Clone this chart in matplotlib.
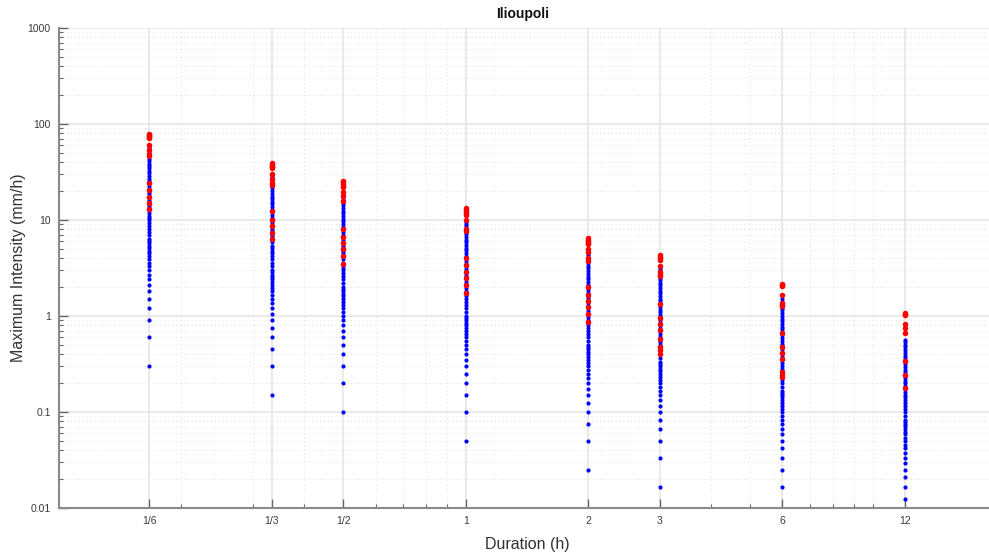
import numpy as np
import matplotlib
matplotlib.use("Agg")
import matplotlib.pyplot as plt
from matplotlib.ticker import FixedLocator, FixedFormatter, LogLocator, NullFormatter

plt.rcParams['font.family'] = ['Liberation Sans', 'DejaVu Sans']

# --- data: maximum intensity (mm/h) per storm duration (h) ---
durations = [1/6, 1/3, 1/2, 1, 2, 3, 6, 12]
duration_labels = ["1/6", "1/3", "1/2", "1", "2", "3", "6", "12"]

# all events (blue)
all_6 = [0.3, 0.6, 0.9, 1.2, 1.5, 1.8, 2.1, 2.4, 2.7, 3.0, 3.3, 3.6, 3.9, 4.2, 4.5, 4.8, 5.1, 5.4,
         5.7, 6.0, 6.3, 6.9, 7.5, 8.1, 8.7, 9.3, 9.9, 10.5, 11.1, 11.7, 12.6, 13.5, 14.4, 15.3, 16.2,
         17.4, 18.6, 19.8, 21.0, 22.5, 24.0, 25.5, 27.0, 28.8, 30.6, 32.4, 34.5, 36.6, 38.7, 41.1,
         43.5, 46.2, 48.9, 51.9, 55.2, 58.2]
all_3 = [0.15, 0.30, 0.45, 0.60, 0.75, 0.90, 1.05, 1.20, 1.35, 1.50, 1.65, 1.80, 1.95, 2.10, 2.25,
         2.40, 2.55, 2.70, 2.85, 3.00, 3.30, 3.60, 3.90, 4.20, 4.50, 4.80, 5.10, 5.40, 5.85, 6.30,
         6.75, 7.20, 7.65, 8.10, 8.70, 9.30, 9.90, 10.50, 11.25, 12.00, 12.75, 13.65, 14.55, 15.45,
         16.50, 17.55, 18.75, 19.95, 21.30, 22.65, 24.15, 25.65, 27.30, 28.95]
all_2 = [0.1, 0.2, 0.3, 0.4, 0.5, 0.6, 0.7, 0.8, 0.9, 1.0, 1.1, 1.2, 1.3, 1.4, 1.5, 1.6, 1.7, 1.8,
         1.9, 2.0, 2.2, 2.4, 2.6, 2.8, 3.0, 3.2, 3.4, 3.6, 3.9, 4.2, 4.5, 4.8, 5.1, 5.4, 5.8, 6.2,
         6.6, 7.0, 7.5, 8.0, 8.5, 9.1, 9.7, 10.3, 11.0, 11.7, 12.5, 13.3, 14.2, 15.1, 16.1, 17.2,
         18.3, 19.4]
all_1h = [0.05, 0.10, 0.15, 0.20, 0.25, 0.30, 0.35, 0.40, 0.45, 0.50, 0.55, 0.60, 0.65, 0.70, 0.75,
          0.80, 0.85, 0.90, 0.95, 1.00, 1.10, 1.20, 1.30, 1.40, 1.50, 1.60, 1.70, 1.80, 1.95, 2.10,
          2.25, 2.40, 2.55, 2.70, 2.90, 3.10, 3.30, 3.50, 3.75, 4.00, 4.25, 4.55, 4.85, 5.15, 5.50,
          5.85, 6.25, 6.65, 7.10, 7.55, 8.05, 8.60, 9.15, 9.60]
all_2h = [0.025, 0.050, 0.075, 0.100, 0.125, 0.150, 0.175, 0.200, 0.225, 0.250, 0.275, 0.300, 0.325,
          0.350, 0.375, 0.400, 0.425, 0.450, 0.475, 0.500, 0.550, 0.600, 0.650, 0.700, 0.750, 0.800,
          0.850, 0.900, 0.975, 1.050, 1.125, 1.200, 1.275, 1.350, 1.450, 1.550, 1.650, 1.750, 1.875,
          2.000, 2.125, 2.275, 2.425, 2.575, 2.750, 2.925, 3.125, 3.325, 3.550, 3.775, 4.025, 4.300,
          4.575]
all_3h = [0.0167, 0.0333, 0.05, 0.0667, 0.0833, 0.1, 0.1167, 0.1333, 0.15, 0.1667, 0.1833, 0.2,
          0.2167, 0.2333, 0.25, 0.2667, 0.2833, 0.3, 0.3167, 0.3333, 0.3667, 0.4, 0.4333, 0.4667,
          0.5, 0.5333, 0.5667, 0.6, 0.65, 0.7, 0.75, 0.8, 0.85, 0.9, 0.9667, 1.0333, 1.1, 1.1667,
          1.25, 1.3333, 1.4167, 1.5167, 1.6167, 1.7167, 1.8333, 1.95, 2.0833, 2.2167, 2.3667,
          2.5167, 2.6833, 2.85, 3.0333, 3.15]
all_6h = [0.0167, 0.025, 0.0333, 0.0417, 0.05, 0.0583, 0.0667, 0.075, 0.0833, 0.0917, 0.1, 0.1083,
          0.1167, 0.125, 0.1333, 0.1417, 0.15, 0.1583, 0.1667, 0.1833, 0.2, 0.2167, 0.2333, 0.25,
          0.2667, 0.2833, 0.3, 0.325, 0.35, 0.375, 0.4, 0.425, 0.45, 0.4833, 0.5167, 0.55, 0.5917,
          0.6333, 0.675, 0.725, 0.775, 0.825, 0.8833, 0.9417, 1.0083, 1.075, 1.15, 1.225, 1.3083,
          1.4, 1.5]
all_12h = [0.0125, 0.0167, 0.0208, 0.025, 0.0292, 0.0333, 0.0375, 0.0417, 0.0458, 0.05, 0.0542,
           0.0583, 0.0625, 0.0667, 0.0708, 0.075, 0.0792, 0.0833, 0.0917, 0.1, 0.1083, 0.1167, 0.125,
           0.1333, 0.1417, 0.15, 0.1625, 0.175, 0.1875, 0.2, 0.2125, 0.225, 0.2417, 0.2583, 0.275,
           0.2958, 0.3167, 0.3375, 0.3625, 0.3875, 0.4125, 0.4417, 0.4708, 0.5042, 0.5375, 0.5583]

# annual maxima (red)
max_6 = [78.0, 76.2, 74.4, 72.6, 70.8, 60.0, 54.0, 48.6, 46.2, 24.3, 20.4, 17.4, 15.0, 12.9]
max_3 = [39.3, 37.8, 36.6, 35.4, 34.5, 30.0, 26.7, 24.3, 23.1, 12.3, 10.05, 8.7, 7.35, 6.3]
max_2 = [25.5, 24.6, 23.7, 22.8, 22.2, 19.8, 17.7, 15.6, 8.1, 6.7, 5.8, 5.0, 4.25, 3.45]
max_1h = [13.2, 12.6, 12.2, 11.8, 11.4, 10.0, 8.0, 7.7, 4.05, 3.37, 2.89, 2.47, 2.10, 1.72]
max_2h = [6.45, 6.2, 6.0, 5.8, 5.6, 5.0, 4.6, 4.0, 3.75, 2.02, 1.67, 1.44, 1.23, 1.06, 0.87]
max_3h = [4.3, 4.15, 4.0, 3.85, 3.32, 2.9, 2.75, 2.6, 1.34, 0.96, 0.83, 0.71, 0.575, 0.48, 0.44, 0.40]
max_6h = [2.18, 2.12, 2.06, 1.66, 1.38, 1.30, 1.27, 0.67, 0.48, 0.41, 0.355, 0.26, 0.245, 0.23]
max_12h = [1.08, 1.05, 1.03, 0.83, 0.75, 0.66, 0.336, 0.24, 0.177]

all_events = [all_6, all_3, all_2, all_1h, all_2h, all_3h, all_6h, all_12h]
annual_max = [max_6, max_3, max_2, max_1h, max_2h, max_3h, max_6h, max_12h]

# --- figure ---
W, H = 989, 554
fig = plt.figure(figsize=(W / 100, H / 100), dpi=100)
ax = fig.add_axes([59 / W, (H - 508) / H, (995 - 59) / W, 480 / H])

for d, vals in zip(durations, all_events):
    ax.plot(np.full(len(vals), d), vals, 'o', color='#0000ff', markersize=3.0,
            markeredgewidth=0, zorder=3)
for d, vals in zip(durations, annual_max):
    ax.plot(np.full(len(vals), d), vals, 'o', color='#ff0000', markersize=4.0,
            markeredgewidth=0, zorder=4)

ax.set_xscale('log')
ax.set_yscale('log')
ax.set_xlim(0.1, 20)
ax.set_ylim(0.01, 1000)

ax.xaxis.set_major_locator(FixedLocator(durations))
ax.xaxis.set_major_formatter(FixedFormatter(duration_labels))
ax.xaxis.set_minor_locator(LogLocator(base=10, subs=np.arange(1, 10)))
ax.xaxis.set_minor_formatter(NullFormatter())

ax.yaxis.set_major_locator(FixedLocator([0.01, 0.1, 1, 10, 100, 1000]))
ax.yaxis.set_major_formatter(FixedFormatter(["0.01", "0.1", "1", "10", "100", "1000"]))
ax.yaxis.set_minor_locator(LogLocator(base=10, subs=np.arange(2, 10)))
ax.yaxis.set_minor_formatter(NullFormatter())

ax.grid(True, which='major', color='#e6e6e6', linewidth=1.2, linestyle='-', zorder=0)
ax.grid(True, which='minor', color='#dedede', linewidth=0.7, linestyle=(0, (1, 3)), zorder=0)
ax.set_axisbelow(True)

for side in ['top', 'right']:
    ax.spines[side].set_visible(False)
for side in ['left', 'bottom']:
    ax.spines[side].set_color('#8a8a8a')
    ax.spines[side].set_linewidth(1.5)

ax.tick_params(which='major', direction='in', length=6.5, width=1.0, color='#666666',
               labelsize=7.5, labelcolor='#3a3a3a', pad=6)
ax.tick_params(which='minor', direction='in', length=3, width=0.8, color='#666666')

ax.set_xlabel("Duration (h)", fontsize=11.5, color='#333333', labelpad=8)
fig.text(19 / W, 1 - 268 / H, "Maximum Intensity (mm/h)", rotation=90, ha='center', va='center',
         fontsize=11.5, color='#333333')
fig.text(523 / W, 1 - 14 / H, "Ilioupoli", ha='center', va='center', fontsize=10,
         fontweight='bold', color='#111111')

fig.savefig("out.png", dpi=100)
